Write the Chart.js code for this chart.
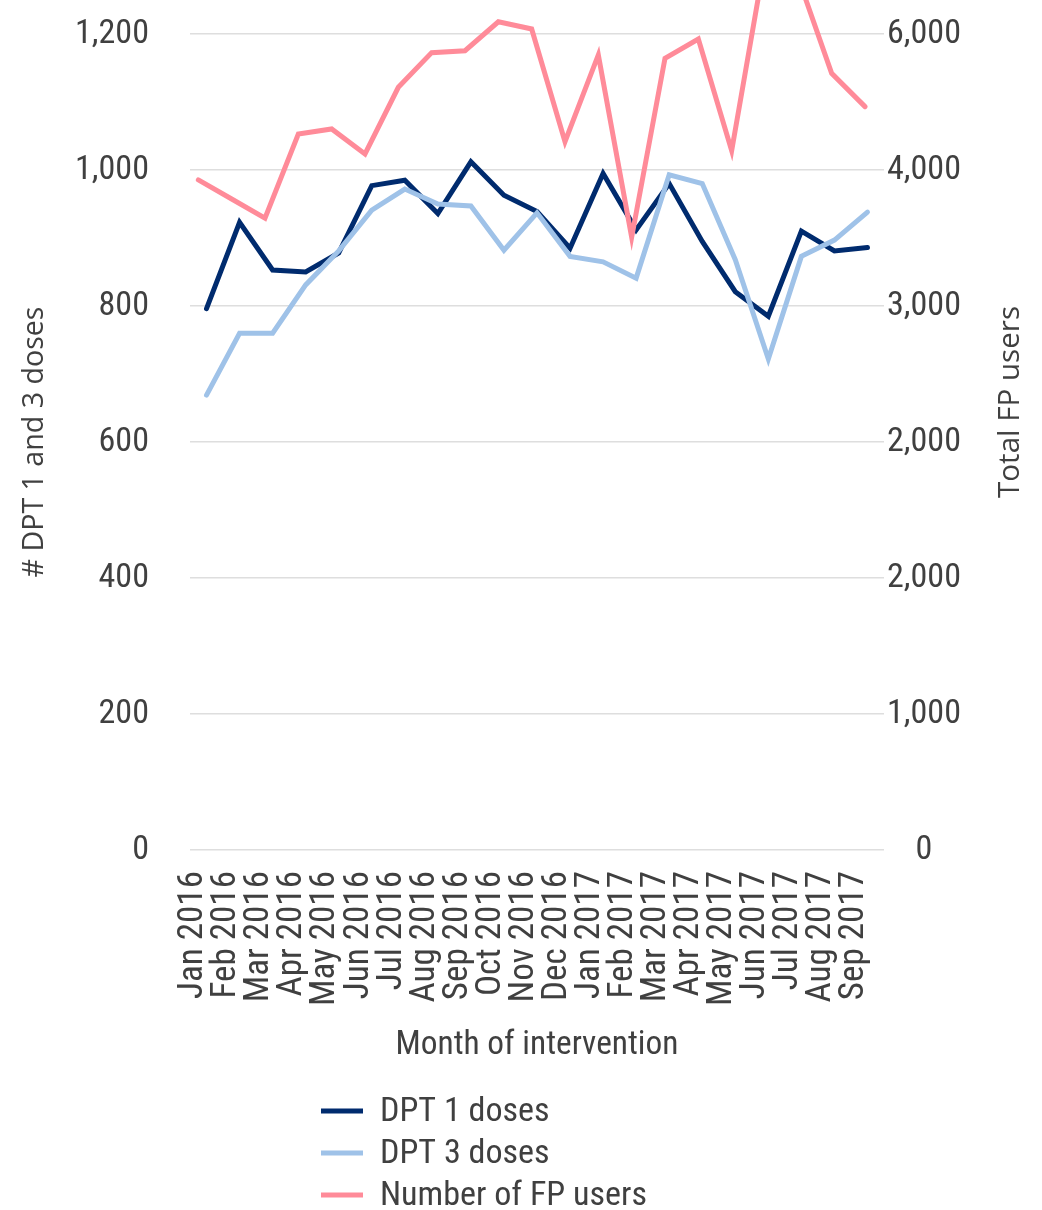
<!DOCTYPE html>
<html>
<head>
<meta charset="utf-8">
<script src="https://cdn.jsdelivr.net/npm/chart.js@4/dist/chart.umd.min.js"></script>
<style>
  html, body { margin: 0; padding: 0; background: #ffffff; }
  #wrap { width: 1042px; height: 1210px; position: relative; }
</style>
</head>
<body>
<div id="wrap"><canvas id="c" width="1042" height="1210"></canvas></div>
<script>
// ---------- data ----------
const months = ['Jan 2016','Feb 2016','Mar 2016','Apr 2016','May 2016','Jun 2016','Jul 2016','Aug 2016','Sep 2016','Oct 2016','Nov 2016','Dec 2016',
                'Jan 2017','Feb 2017','Mar 2017','Apr 2017','May 2017','Jun 2017','Jul 2017','Aug 2017','Sep 2017'];
const dpt1Doses = [796, 923, 853, 850, 878, 977, 985, 936, 1012, 963, 939, 885, 995, 912, 980, 895, 821, 785, 910, 881, 886];
const dpt3Doses = [669, 760, 760, 831, 881, 941, 972, 950, 947, 882, 937, 873, 865, 841, 993, 980, 868, 722, 873, 897, 938];
const fpUsers   = [4927, 4787, 4646, 5265, 5302, 5118, 5608, 5863, 5877, 6090, 6037, 5208, 5846, 4506, 5821, 5963, 5142, 6550, 6410, 5711, 5466];
const leftTickValues = [0, 200, 400, 600, 800, 1000, 1200];
const rightTickLabels = ['0', '1,000', '2,000', '2,000', '3,000', '4,000', '6,000'];
const seriesNames = ['DPT 1 doses', 'DPT 3 doses', 'Number of FP users'];
const axisTitles = { x: 'Month of intervention', yLeft: '# DPT 1 and 3 doses', yRight: 'Total FP users' };

// ---------- font helpers ----------
const mctx = document.createElement('canvas').getContext('2d');
function has(f) {
  const s = 'Month of intervention 1,200 WMwm';
  mctx.font = '40px "' + f + '", monospace'; const a = mctx.measureText(s).width;
  mctx.font = '40px "' + f + '", serif'; const b = mctx.measureText(s).width;
  mctx.font = '40px monospace'; const m = mctx.measureText(s).width;
  return Math.abs(a - b) < 0.01 && Math.abs(a - m) > 0.5;
}
function pick(list, fb) { for (const f of list) if (has(f)) return f; return fb; }
function fit(text, family, w) { mctx.font = '100px "' + family + '"'; return 100 * w / mctx.measureText(text).width; }

const narrow = pick(['Liberation Sans Narrow', 'Arial Narrow', 'Roboto Condensed', 'DejaVu Sans Condensed'], 'Liberation Sans');
const titleFam = pick(['Open Sans', 'DejaVu Sans'], 'Liberation Sans');
const tickSize   = fit('Number of FP users', narrow, 267);
const xTickSize  = fit('May 2016', narrow, 135);
const xTitleSize = fit('Month of intervention', narrow, 283);
const yTitleSize = fit('# DPT 1 and 3 doses', titleFam, 271);
const rTitleSize = fit('Total FP users', titleFam, 192);
const textColor = '#404040';

// ---------- plugins ----------
const rightTitle = {
  id: 'rightTitle',
  afterDraw(chart) {
    const t = chart.options.scales.yR.title;
    const ctx = chart.ctx;
    ctx.save();
    ctx.translate(1011, 402);
    ctx.rotate(-Math.PI / 2);
    ctx.font = rTitleSize + 'px "' + titleFam + '"';
    ctx.fillStyle = textColor;
    ctx.textAlign = 'center';
    ctx.textBaseline = 'middle';
    ctx.fillText(t.text, 0, 0);
    ctx.restore();
  }
};
const stackedLegend = {
  id: 'stackedLegend',
  afterDraw(chart) {
    const ctx = chart.ctx;
    ctx.save();
    chart.data.datasets.forEach((ds, i) => {
      const y = 1111 + i * 42;
      ctx.strokeStyle = ds.borderColor;
      ctx.lineWidth = 5;
      ctx.lineCap = 'butt';
      ctx.beginPath(); ctx.moveTo(321, y); ctx.lineTo(363, y); ctx.stroke();
      ctx.font = tickSize + 'px "' + narrow + '"';
      ctx.fillStyle = textColor;
      ctx.textAlign = 'left';
      ctx.textBaseline = 'middle';
      ctx.fillText(ds.label, 380, y + 1);
    });
    ctx.restore();
  }
};

// ---------- chart ----------
new Chart(document.getElementById('c'), {
  type: 'line',
  data: {
    labels: months,
    datasets: [
      { label: seriesNames[0], data: dpt1Doses, borderColor: '#002b6e', backgroundColor: '#002b6e',
        borderWidth: 5, pointRadius: 0, tension: 0, xAxisID: 'x', yAxisID: 'y', order: 2, borderCapStyle: 'round' },
      { label: seriesNames[1], data: dpt3Doses, borderColor: '#9fc2e8', backgroundColor: '#9fc2e8',
        borderWidth: 5, pointRadius: 0, tension: 0, xAxisID: 'x', yAxisID: 'y', order: 1, borderCapStyle: 'round' },
      { label: seriesNames[2], data: fpUsers.map((v, i) => ({ x: i, y: v })), borderColor: '#ff8b99', backgroundColor: '#ff8b99',
        borderWidth: 5, pointRadius: 0, tension: 0, xAxisID: 'x2', yAxisID: 'yR', order: 0, clip: false, borderCapStyle: 'round' }
    ]
  },
  options: {
    responsive: false,
    animation: false,
    devicePixelRatio: 1,
    layout: { padding: { top: 34, bottom: 125, left: 0, right: 0 } },
    plugins: { legend: { display: false }, tooltip: { enabled: false } },
    scales: {
      x: {
        type: 'category',
        offset: true,
        grid: { display: false, drawTicks: false },
        border: { display: false },
        ticks: { autoSkip: false, minRotation: 90, maxRotation: 90, padding: 21, labelOffset: -13,
                 color: textColor, font: { family: narrow, size: xTickSize } },
        title: { display: true, text: axisTitles.x, color: textColor, font: { family: narrow, size: xTitleSize },
                 padding: { top: 0, bottom: 39 - xTitleSize * 0.6 } },
        afterFit(s) { s.height = 235; s.paddingLeft = 0; s.paddingRight = 0; }
      },
      x2: { type: 'linear', display: false, min: -0.25, max: 20.57 },
      y: {
        position: 'left',
        min: 0, max: 1200,
        afterBuildTicks(s) { s.ticks = leftTickValues.map(v => ({ value: v })); },
        grid: { color: '#dedede', lineWidth: 1.5, drawTicks: false },
        border: { display: false },
        ticks: { padding: 41, color: textColor, font: { family: narrow, size: tickSize },
                 callback: v => Number(v).toLocaleString('en-US') },
        title: { display: true, text: axisTitles.yLeft, color: textColor, font: { family: titleFam, size: yTitleSize },
                 padding: { top: 35 - yTitleSize * 0.6, bottom: 0 } },
        afterFit(s) { s.width = 190; s.paddingTop = 0; s.paddingBottom = 0; }
      },
      yR: {
        position: 'right',
        min: 0, max: 6000,
        afterBuildTicks(s) { s.ticks = rightTickLabels.map((t, i) => ({ value: i * 1000 })); },
        grid: { display: false, drawTicks: false },
        border: { display: false },
        ticks: { padding: 3, crossAlign: 'center', color: textColor, font: { family: narrow, size: tickSize },
                 callback: v => rightTickLabels[Math.round(v / 1000)] },
        title: { display: false, text: axisTitles.yRight },
        afterFit(s) { s.width = 158; s.paddingTop = 0; s.paddingBottom = 0; }
      }
    }
  },
  plugins: [rightTitle, stackedLegend]
});
</script>
</body>
</html>
